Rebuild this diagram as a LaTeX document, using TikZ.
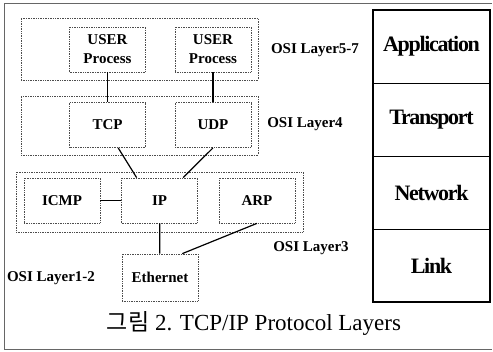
\documentclass[tikz,border=0pt]{standalone}
\usepackage{fontspec}
\setmainfont{Liberation Serif}
\newfontfamily\cjk{Noto Sans CJK KR}
\newfontfamily\stackfont[LetterSpace=-6]{Liberation Serif}
\usetikzlibrary{positioning}
\begin{document}
\begin{tikzpicture}[x=1pt, y=-1pt, line width=1.2pt,
    group/.style={draw=black!70, densely dotted, line width=0.7pt, inner sep=0pt},
    proto/.style={draw=black!70, densely dotted, line width=0.7pt, minimum width=76pt, minimum height=45pt, inner sep=0pt, align=center, font=\fontsize{15}{19}\selectfont\bfseries},
    osi/.style={font=\fontsize{15}{17}\selectfont\bfseries},
    layer/.style={draw, line width=0.8pt, outer sep=0pt, minimum width=117pt, minimum height=73pt, inner sep=0pt, font=\stackfont\fontsize{22}{24}\selectfont\bfseries}]
    \useasboundingbox (0,0) rectangle (493,351);
    \draw [black!60, line width=0.6pt] (492,3) -- (4,3) -- (4,349) -- (492,349);
    \node [group, minimum width=237pt, minimum height=62pt] (apps) at (139.5,49) {};
    \node [group, minimum width=237pt, minimum height=59pt] (transport) at (139.5,125.5) {};
    \node [group, minimum width=287pt, minimum height=60pt] (network) at (159.5,202) {};
    \node [proto] (user1) at (107.5,49.5) {USER\\Process};
    \node [proto] (user2) at (213,49.5) {USER\\Process};
    \node [proto] (tcp) at (107.5,125) {TCP};
    \node [proto] (udp) at (213,125) {UDP};
    \node [proto] (icmp) at (62,200.5) {ICMP};
    \node [proto] (ip) at (159.5,200.5) {IP};
    \node [proto] (arp) at (257,200.5) {ARP};
    \node [proto, minimum height=47pt] (eth) at (160,277.5) {Ethernet};
    \node [osi] (l57) at (315,50) {OSI Layer5-7};
    \node [osi] (l4) at (305,124) {OSI Layer4};
    \node [osi] (l3) at (311,248) {OSI Layer3};
    \node [osi] (l12) at (51,278) {OSI Layer1-2};
    \node [layer] (appl) at (431.5,46.5) {Application};
    \node [layer, below=0pt of appl] (trans) {Transport};
    \node [layer, below=0pt of trans] (net) {Network};
    \node [layer, below=0pt of net] (link) {Link};
    \draw [line width=2pt] (appl.north west) rectangle (link.south east);
    \node [font=\fontsize{23}{26}\selectfont] (caption) at (254,323) {{\cjk 그림} 2. TCP/IP Protocol Layers};
    \path (user1) edge (tcp);
    \path (user2) edge (udp);
    \path (tcp.-65) edge (ip.135);
    \path (udp.south) edge (ip.44);
    \path (icmp) edge (ip);
    \path (ip) edge (eth);
    \path (arp.south) edge (eth.47);
\end{tikzpicture}
\end{document}
